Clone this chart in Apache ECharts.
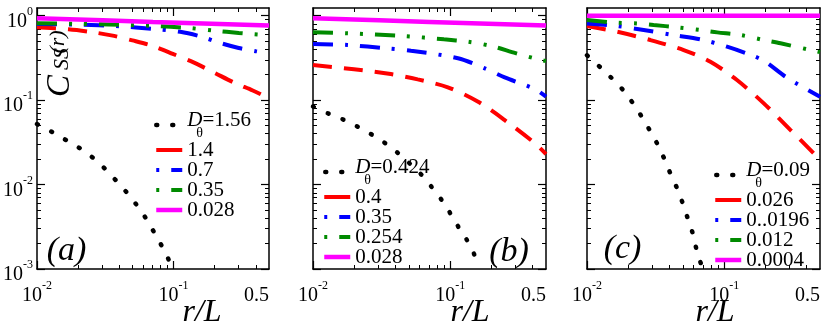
<!DOCTYPE html>
<html><head><meta charset="utf-8">
<script src="https://cdn.jsdelivr.net/npm/echarts@6/dist/echarts.min.js"></script>
<style>html,body{margin:0;padding:0;background:#fff}#c{width:830px;height:332px}</style>
</head><body><div id="c"></div>
<script>
// ================= DATA =================
const xTickMajor = [0.01, 0.1];
const xTickMinor = [0.02,0.03,0.04,0.05,0.06,0.07,0.08,0.09,0.2,0.3,0.4];
const xTickLabels = [0.01, 0.1, 0.5];
const yTickMajor = [0.001, 0.01, 0.1, 1];
const yTickMinor = [0.002,0.003,0.004,0.005,0.006,0.007,0.008,0.009,
                    0.02,0.03,0.04,0.05,0.06,0.07,0.08,0.09,
                    0.2,0.3,0.4,0.5,0.6,0.7,0.8,0.9];
const yTickLabels = [0.001, 0.01, 0.1, 1];

const labelsA = ['1.56','1.4','0.7','0.35','0.028'];
const labelsB = ['0.424','0.4','0.35','0.254','0.028'];
const labelsC = ['0.09','0.026','0..0196','0.012','0.0004'];
const panelTags = ['(a)','(b)','(c)'];

// panel (a)
const aBlackR = [0.01,0.0128,0.016,0.0203,0.0252,0.0312,0.0373,0.045,0.053,0.062,0.0713,0.0816,0.0919];
const aBlackV = [0.052,0.0422,0.0343,0.0273,0.0213,0.0156,0.0115,0.0082,0.0059,0.0041,0.0028,0.0019,0.0013];
const aRedR = [0.01,0.017,0.025,0.035,0.05,0.07,0.1,0.14,0.2,0.28,0.38,0.5];
const aRedV = [0.73,0.69,0.64,0.585,0.51,0.44,0.35,0.28,0.21,0.16,0.13,0.105];
const aBlueR = [0.01,0.02,0.04,0.07,0.112,0.16,0.22,0.3,0.4,0.5];
const aBlueV = [0.80,0.785,0.75,0.70,0.645,0.565,0.475,0.415,0.38,0.36];
const aGreenR = [0.01,0.02,0.04,0.077,0.13,0.2,0.3,0.5];
const aGreenV = [0.815,0.80,0.78,0.755,0.715,0.665,0.625,0.585];
const aMagR = [0.01,0.0707,0.5];
const aMagV = [0.935,0.845,0.765];

// panel (b)
const bBlackR = [0.01,0.0132,0.017,0.0216,0.0274,0.0343,0.0425,0.0518,0.0631,0.0747,0.0884,0.1016,0.117,0.1348,0.1526];
const bBlackV = [0.084,0.0684,0.058,0.0476,0.0383,0.0302,0.023,0.0172,0.0126,0.009,0.0063,0.0044,0.003,0.0021,0.0014];
const bRedR = [0.01,0.0199,0.0369,0.058,0.0962,0.16,0.25,0.415,0.5];
const bRedV = [0.26,0.232,0.204,0.176,0.142,0.0957,0.058,0.0308,0.023];
const bBlueR = [0.01,0.0178,0.0349,0.0518,0.114,0.179,0.25,0.415,0.5];
const bBlueV = [0.462,0.45,0.41,0.385,0.313,0.238,0.186,0.135,0.11];
const bGreenR = [0.01,0.0178,0.046,0.09,0.135,0.2,0.3,0.44,0.5];
const bGreenV = [0.636,0.619,0.575,0.525,0.492,0.437,0.36,0.304,0.29];
const bMagR = [0.01,0.0707,0.5];
const bMagV = [0.935,0.845,0.765];

// panel (c)
const cBlackR = [0.01,0.0125,0.0152,0.0183,0.0215,0.0249,0.0286,0.0326,0.0366,0.0405,0.0454,0.0499,0.0542,0.059,0.0628,0.0679];
const cBlackV = [0.34,0.245,0.181,0.132,0.0932,0.0648,0.0443,0.0302,0.0202,0.0136,0.009,0.006,0.004,0.00264,0.00172,0.00114];
const cRedR = [0.01,0.0166,0.029,0.0507,0.0794,0.124,0.1946,0.305,0.451,0.5];
const cRedV = [0.755,0.646,0.515,0.392,0.285,0.173,0.0916,0.0442,0.0234,0.0195];
const cBlueR = [0.01,0.0166,0.0259,0.0429,0.0672,0.105,0.164,0.2,0.285,0.5];
const cBlueV = [0.81,0.755,0.677,0.59,0.525,0.43,0.333,0.285,0.186,0.11];
const cGreenR = [0.01,0.0166,0.0232,0.0306,0.0454,0.0672,0.089,0.1315,0.1946,0.2577,0.4266,0.5];
const cGreenV = [0.889,0.826,0.81,0.776,0.729,0.677,0.635,0.59,0.515,0.471,0.392,0.37];
const cMagR = [0.01,0.5];
const cMagV = [1.0,1.0];

// ================= STYLE / LAYOUT =================
const FONT = 'Liberation Serif';
const GRIDS = [
  {left:37, top:8, width:232, height:261},
  {left:313, top:8, width:233, height:261},
  {left:587, top:8, width:233, height:261}
];
const LEGPOS = [{left:154, top:109.5},{left:322, top:156.5},{left:713, top:159.5}];
const STY = {
  black:  {color:'#000000', width:4.5, type:[1,15], cap:'round'},
  red:    {color:'#ff0000', width:4, type:[19,12], cap:'butt'},
  blue:   {color:'#0000ff', width:4, type:[20,12,3,12], cap:'butt'},
  green:  {color:'#008a00', width:4, type:[20,12,3,12,3,12], cap:'butt'},
  magenta:{color:'#ff00ff', width:4.5, type:'solid', cap:'butt'}
};
// legend sample overrides (phase of the dash pattern in the small key line)
const LEGSTY = {
  black:{}, red:{type:'solid'}, blue:{dashOffset:32}, green:{dashOffset:47}, magenta:{}
};
const order = ['black','red','blue','green','magenta'];
const panelData = [
  {labels:labelsA, r:[aBlackR,aRedR,aBlueR,aGreenR,aMagR], v:[aBlackV,aRedV,aBlueV,aGreenV,aMagV]},
  {labels:labelsB, r:[bBlackR,bRedR,bBlueR,bGreenR,bMagR], v:[bBlackV,bRedV,bBlueV,bGreenV,bMagV]},
  {labels:labelsC, r:[cBlackR,cRedR,cBlueR,cGreenR,cMagR], v:[cBlackV,cRedV,cBlueV,cGreenV,cMagV]}
];

function zip(r, v){ return r.map((x,i)=>[x, v[i]]); }
function powLabel(v){
  if (Math.abs(v-0.5) < 1e-9) return '{b|0.5}';
  const e = Math.round(Math.log10(v));
  return '{b|10}{p|' + (e < 0 ? '-' : '') + Math.abs(e) + '}';
}
const labelRich = {
  b: {fontFamily:FONT, fontSize:20, lineHeight:20, padding:[6,0,0,0], verticalAlign:'top', color:'#000'},
  p: {fontFamily:FONT, fontSize:12, lineHeight:12, verticalAlign:'top', color:'#000'}
};
const axLine = {show:true, onZero:false, lineStyle:{color:'#000', width:1.5}};

const xAxes = [], yAxes = [], series = [], legends = [], graphics = [];
GRIDS.forEach((g, i) => {
  const xBase = {type:'log', gridIndex:i, min:0.01, max:0.5, splitLine:{show:false}, axisPointer:{show:false}};
  const yBase = {type:'log', gridIndex:i, min:0.001, max:1.234, splitLine:{show:false}, axisPointer:{show:false}};
  xAxes.push(Object.assign({}, xBase, {position:'bottom', axisLine:axLine,
    axisTick:{show:true, inside:true, length:8, customValues:xTickMajor, lineStyle:{color:'#000', width:1.2}},
    axisLabel:{show:true, customValues:xTickLabels, margin:11, formatter:powLabel, rich:labelRich, fontFamily:FONT, alignMaxLabel:'right'}}));
  xAxes.push(Object.assign({}, xBase, {position:'bottom', axisLine:{show:false},
    axisTick:{show:true, inside:true, length:4, customValues:xTickMinor, lineStyle:{color:'#000', width:1}},
    axisLabel:{show:false}}));
  xAxes.push(Object.assign({}, xBase, {position:'top', axisLine:axLine,
    axisTick:{show:true, inside:true, length:8, customValues:xTickMajor, lineStyle:{color:'#000', width:1.2}},
    axisLabel:{show:false}}));
  xAxes.push(Object.assign({}, xBase, {position:'top', axisLine:{show:false},
    axisTick:{show:true, inside:true, length:4, customValues:xTickMinor, lineStyle:{color:'#000', width:1}},
    axisLabel:{show:false}}));
  yAxes.push(Object.assign({}, yBase, {position:'left', axisLine:axLine,
    axisTick:{show:true, inside:true, length:8, customValues:yTickMajor, lineStyle:{color:'#000', width:1.2}},
    axisLabel: i === 0 ? {show:true, customValues:yTickLabels, margin:4, formatter:powLabel, rich:labelRich, fontFamily:FONT}
                       : {show:false}}));
  yAxes.push(Object.assign({}, yBase, {position:'left', axisLine:{show:false},
    axisTick:{show:true, inside:true, length:4, customValues:yTickMinor, lineStyle:{color:'#000', width:1}},
    axisLabel:{show:false}}));
  yAxes.push(Object.assign({}, yBase, {position:'right', axisLine:axLine,
    axisTick:{show:true, inside:true, length:8, customValues:yTickMajor, lineStyle:{color:'#000', width:1.2}},
    axisLabel:{show:false}}));
  yAxes.push(Object.assign({}, yBase, {position:'right', axisLine:{show:false},
    axisTick:{show:true, inside:true, length:4, customValues:yTickMinor, lineStyle:{color:'#000', width:1}},
    axisLabel:{show:false}}));

  const pd = panelData[i];
  const p = 'abc'[i];
  const names = [];
  const legData = [];
  order.forEach((key, k) => {
    const st = STY[key];
    const nm = p + ':' + pd.labels[k];
    names.push(nm);
    legData.push({name:nm, lineStyle:Object.assign({}, LEGSTY[key])});
    series.push({
      type:'line', name:nm, xAxisIndex:i*4, yAxisIndex:i*4,
      data: zip(pd.r[k], pd.v[k]),
      symbol:'none', showSymbol:false, smooth:0.3, silent:true, z: 2 + k,
      lineStyle:{color:st.color, width:st.width, type:st.type, cap:st.cap},
      itemStyle:{color:st.color}
    });
  });
  legends.push({
    orient:'vertical', left:LEGPOS[i].left, top:LEGPOS[i].top, padding:0,
    itemWidth:26, itemHeight:14, itemGap:-1, selectedMode:false,
    data:legData,
    itemStyle:{color:'rgba(0,0,0,0)', borderColor:'rgba(0,0,0,0)', borderWidth:0, opacity:0},
    lineStyle:{width:'inherit', type:'inherit', cap:'inherit', color:'inherit'},
    formatter: function(name){
      const lab = name.slice(2);
      if (name === names[0]) return '{d|D}{e|=' + lab + '}\n{s|θ}';
      return lab;
    },
    textStyle:{fontFamily:FONT, fontSize:21, lineHeight:18, color:'#000',
      rich:{
        e:{fontFamily:FONT, fontSize:21, lineHeight:17, color:'#000'},
        d:{fontFamily:FONT, fontSize:21, lineHeight:17, fontStyle:'italic', color:'#000'},
        s:{fontFamily:FONT, fontSize:14, lineHeight:10, padding:[0,0,0,9], color:'#000'}
      }}
  });
});

const rLPos = [[202,313],[470,313],[715,313]];
rLPos.forEach(pt => graphics.push({type:'text', x:pt[0], y:pt[1], silent:true,
  style:{text:'r/L', font:'italic 32px "Liberation Serif"', fill:'#000', align:'center', verticalAlign:'middle'}}));
const tagPos = [[66.5,251],[509,252.5],[622.5,249]];
tagPos.forEach((pt, i) => graphics.push({type:'text', x:pt[0], y:pt[1], silent:true,
  style:{text:panelTags[i], font:'italic 34px "Liberation Serif"', fill:'#000', align:'center', verticalAlign:'middle'}}));
// rotated y-axis title C_SS(r), pieces placed separately
graphics.push({type:'text', x:60, y:86, rotation:Math.PI/2, silent:true,
  style:{text:'C', font:'italic 33px "Liberation Serif"', fill:'#000', align:'center', verticalAlign:'middle'}});
graphics.push({type:'text', x:62, y:59, rotation:Math.PI/2, silent:true,
  style:{text:'SS', font:'italic 22px "Liberation Serif"', fill:'#000', align:'center', verticalAlign:'middle'}});
graphics.push({type:'text', x:58, y:42, rotation:Math.PI/2, silent:true,
  style:{text:'(r)', font:'italic 22px "Liberation Serif"', fill:'#000', align:'center', verticalAlign:'middle'}});

const chart = echarts.init(document.getElementById('c'), null, {renderer:'canvas'});
chart.setOption({
  animation:false,
  backgroundColor:'#ffffff',
  grid: GRIDS.map(g => Object.assign({containLabel:false}, g)),
  xAxis: xAxes, yAxis: yAxes,
  legend: legends,
  series: series,
  graphic: graphics
});
</script></body></html>
